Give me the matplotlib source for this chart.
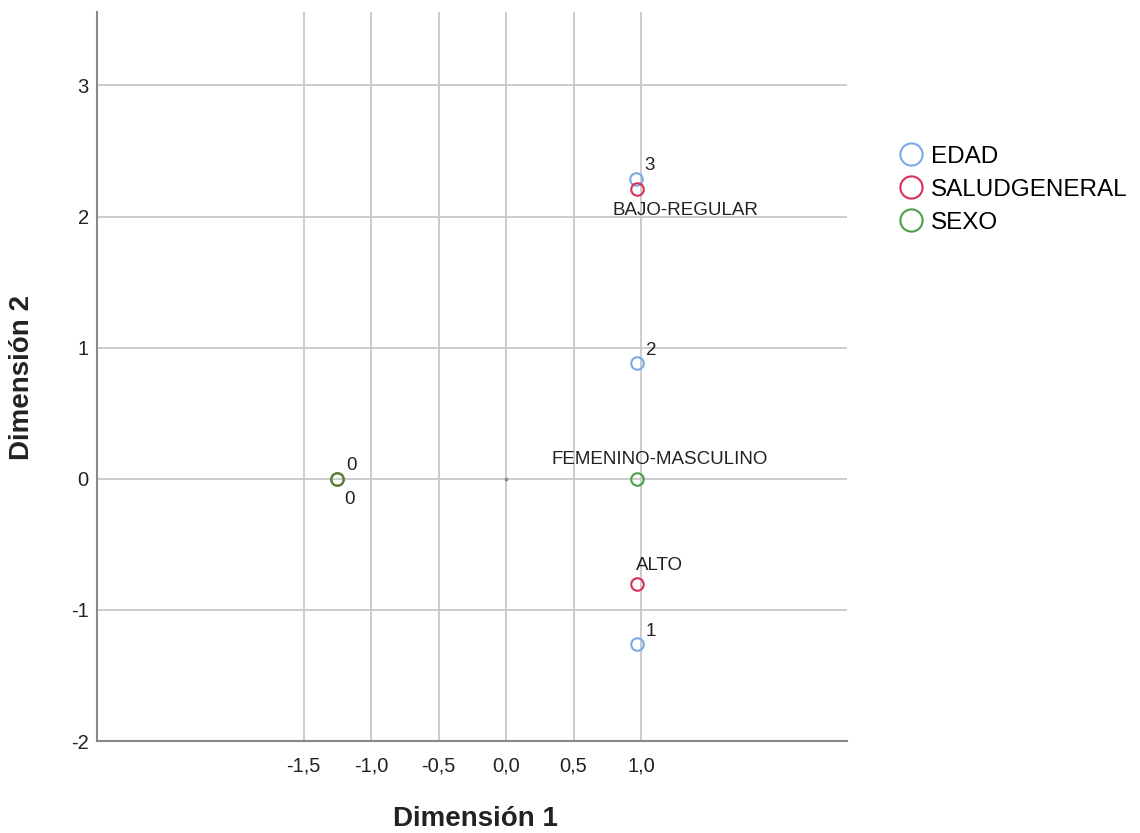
import matplotlib.pyplot as plt
from matplotlib.lines import Line2D

plt.rcParams["font.family"] = ["Liberation Sans", "DejaVu Sans"]

# Puntos de categoría (Dimensión 1, Dimensión 2)
edad_labels = ["0", "1", "2", "3"]
edad_x = [-1.25, 0.97, 0.97, 0.96]
edad_y = [0.0, -1.26, 0.88, 2.29]

salud_labels = ["ALTO", "BAJO-REGULAR"]
salud_x = [0.97, 0.97]
salud_y = [-0.80, 2.21]

sexo_labels = ["0", "FEMENINO-MASCULINO"]
sexo_x = [-1.25, 0.97]
sexo_y = [0.0, 0.0]

x_ticks = [-1.5, -1.0, -0.5, 0.0, 0.5, 1.0]
y_ticks = [-2, -1, 0, 1, 2, 3]

C_EDAD = "#7aa9e6"
C_SALUD = "#d93058"
C_SEXO = "#4c9f48"

fig = plt.figure(figsize=(11.4, 8.33), dpi=100)
ax = fig.add_axes([0.0851, 0.1104, 0.658, 0.8752])

ax.set_xlim(-3.03, 2.526)
ax.set_ylim(-2.0, 3.56)

ax.set_xticks(x_ticks)
ax.set_xticklabels([f"{v:.1f}".replace(".", ",") for v in x_ticks], fontsize=14.5)
ax.set_yticks(y_ticks)
ax.set_yticklabels([str(v) for v in y_ticks], fontsize=14.5)
ax.tick_params(axis="x", length=0, pad=11, colors="#222222")
ax.tick_params(axis="y", length=0, pad=6, colors="#222222")
ax.grid(True, color="#c8c8c8", linewidth=1.3)
ax.set_axisbelow(True)
for s in ["top", "right"]:
    ax.spines[s].set_visible(False)
for s in ["left", "bottom"]:
    ax.spines[s].set_color("#888888")
    ax.spines[s].set_linewidth(1.5)

ax.plot([0], [0], marker="s", ms=1.5, color="#888888", zorder=2)

mk = dict(marker="o", linestyle="none", markersize=9, markerfacecolor="none",
          markeredgewidth=1.5, zorder=3)
ax.plot(edad_x, edad_y, markeredgecolor=C_EDAD, **mk)
ax.plot(salud_x, salud_y, markeredgecolor=C_SALUD, **mk)
ax.plot(sexo_x, sexo_y, markeredgecolor=C_SEXO, **mk)
ax.plot(sexo_x[:1], sexo_y[:1], markeredgecolor="#6b7a35", **mk)

tk = dict(fontsize=13.5, color="#222222")
# EDAD: etiquetas arriba a la derecha
for lab, x, y in zip(edad_labels, edad_x, edad_y):
    ax.annotate(lab, (x, y), xytext=(6.5, 6), textcoords="offset points",
                ha="left", va="baseline", **tk)
# SALUDGENERAL
ax.annotate(salud_labels[0], (salud_x[0], salud_y[0]), xytext=(16, 9.5),
            textcoords="offset points", ha="center", va="baseline", **tk)
ax.annotate(salud_labels[1], (salud_x[1], salud_y[1]), xytext=(35, -9),
            textcoords="offset points", ha="center", va="top", **tk)
# SEXO
ax.annotate(sexo_labels[0], (sexo_x[0], sexo_y[0]), xytext=(5, -9),
            textcoords="offset points", ha="left", va="top", **tk)
ax.annotate(sexo_labels[1], (sexo_x[1], sexo_y[1]), xytext=(16, 11),
            textcoords="offset points", ha="center", va="baseline", **tk)

fig.text(0.4167, 0.0165, "Dimensión 1", ha="center", va="center",
         fontsize=20, fontweight="bold", color="#222222")
fig.text(0.0193, 0.547, "Dimensión 2", ha="center", va="center", rotation=90,
         fontsize=20, fontweight="bold", color="#222222")

handles = [Line2D([], [], marker="o", linestyle="none", markersize=16,
                  markerfacecolor="none", markeredgewidth=1.5, markeredgecolor=c)
           for c in (C_EDAD, C_SALUD, C_SEXO)]
fig.legend(handles, ["EDAD", "SALUDGENERAL", "SEXO"], loc="upper left",
           bbox_to_anchor=(0.7886, 0.825), frameon=False, fontsize=17.5,
           handlelength=1.0, handletextpad=0.3, labelspacing=0.45,
           borderpad=0, borderaxespad=0)

fig.savefig("out.png", dpi=100)
